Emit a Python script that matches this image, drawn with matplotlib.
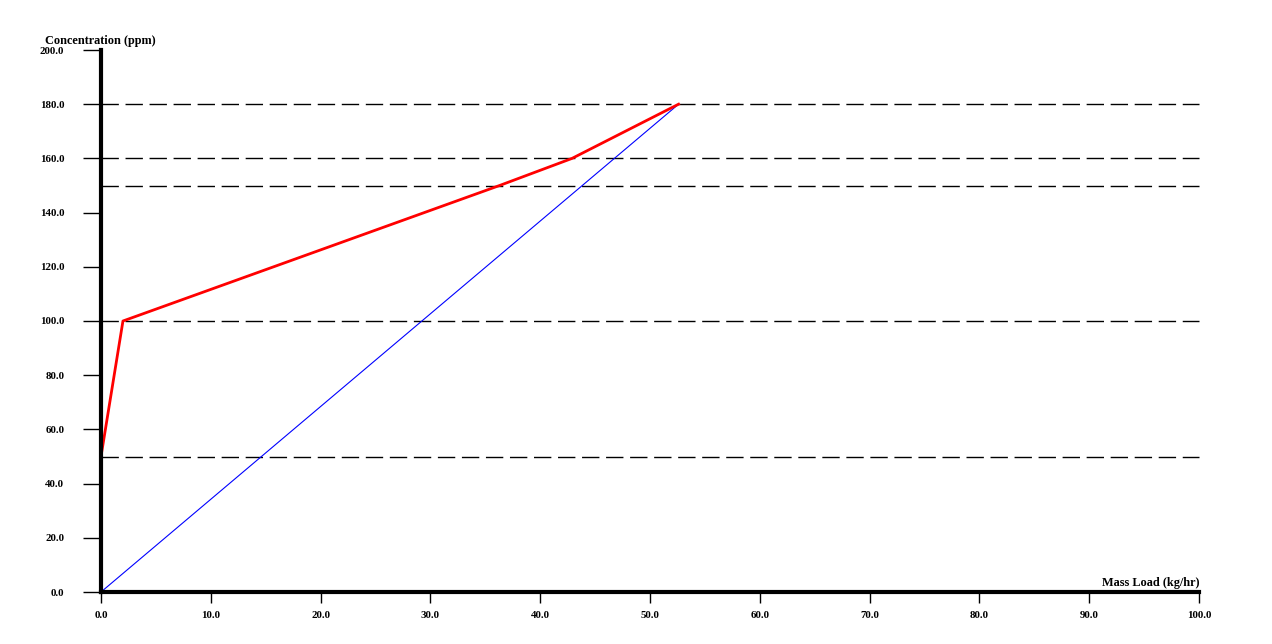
import numpy as np
import matplotlib.pyplot as plt

plt.rcParams['font.family'] = ['Liberation Serif', 'DejaVu Serif']

# composite curve (red) and supply line (blue)
red_x = [0.0, 2.0, 36.3, 42.9, 52.6]
red_y = [50.0, 100.0, 150.0, 160.0, 180.0]
blue_x = [0.0, 52.6]
blue_y = [0.0, 180.0]
# concentration levels shown as dashed lines
levels = [50.0, 100.0, 150.0, 160.0, 180.0]

xticks = np.arange(0, 101, 10)
yticks = np.arange(0, 201, 20)

fig = plt.figure(figsize=(12.72, 6.44), dpi=100)
ax = fig.add_axes([101/1272, (644-592)/644, 1098/1272, 542/644])

for lv in levels:
    ax.plot([0, 100], [lv, lv], color='black', lw=1.0, dashes=(12.5, 4.8), dash_capstyle='butt', clip_on=False)

ax.plot(blue_x, blue_y, color='blue', lw=0.8, clip_on=False)
ax.plot(red_x, red_y, color='red', lw=2.0, clip_on=False)

ax.set_xlim(0, 100)
ax.set_ylim(0, 200)
ax.set_xticks(xticks)
ax.set_yticks(yticks)
ax.set_xticklabels(['%.1f' % v for v in xticks], fontsize=7.8, fontweight='bold')
ax.set_yticklabels(['%.1f' % v for v in yticks], fontsize=7.8, fontweight='bold')
ax.tick_params(axis='y', length=13, width=1, pad=13.5)
ax.tick_params(axis='x', length=8, width=1, pad=6)

for s in ['top', 'right']:
    ax.spines[s].set_visible(False)
for s in ['left', 'bottom']:
    ax.spines[s].set_linewidth(3)

fig.text(45/1272, 1 - 41/644, 'Concentration (ppm)', fontsize=8.8, fontweight='bold', va='center', ha='left')
fig.text(1199/1272, 1 - 583/644, 'Mass Load (kg/hr)', fontsize=8.8, fontweight='bold', va='center', ha='right')

fig.savefig('out.png', dpi=100)
